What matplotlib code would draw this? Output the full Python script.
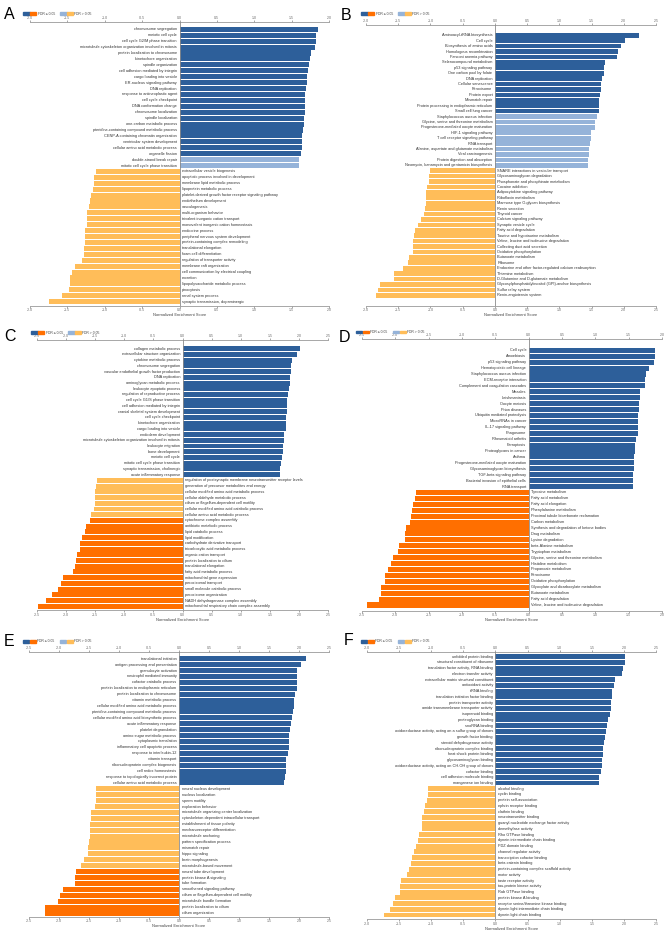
import matplotlib
matplotlib.use("Agg")
import matplotlib.pyplot as plt
from matplotlib.patches import Rectangle
import numpy as np

plt.rcParams['font.family'] = ['Liberation Sans', 'DejaVu Sans']

W, H = 666, 932
DARK_BLUE = '#2d5f9a'
LIGHT_BLUE = '#95b3d9'
DARK_ORANGE = '#ff6f00'
LIGHT_ORANGE = '#ffbd59'

# ---------------- Panel A ----------------
a_terms = [
    "chromosome segregation", "meiotic cell cycle", "cell cycle G2/M phase transition",
    "microtubule cytoskeleton organization involved in mitosis", "protein localization to chromosome",
    "kinetochore organization", "spindle organization", "cell adhesion mediated by integrin",
    "cargo loading into vesicle", "ER-nucleus signaling pathway", "DNA replication",
    "response to antineoplastic agent", "cell cycle checkpoint", "DNA conformation change",
    "chromosome localization", "spindle localization", "one-carbon metabolic process",
    "pteridine-containing compound metabolic process", "CENP-A containing chromatin organization",
    "ventricular system development", "cellular amino acid metabolic process", "organelle fission",
    "double-strand break repair", "mitotic cell cycle phase transition",
    "extracellular vesicle biogenesis", "apoptotic process involved in development",
    "membrane lipid metabolic process", "lipoprotein metabolic process",
    "platelet-derived growth factor receptor signaling pathway", "endothelium development",
    "vasculogenesis", "multi-organism behavior", "trivalent inorganic cation transport",
    "monovalent inorganic cation homeostasis", "endocrine process",
    "peripheral nervous system development", "protein-containing complex remodeling",
    "translational elongation", "foam cell differentiation", "regulation of transporter activity",
    "membrane raft organization", "cell communication by electrical coupling", "excretion",
    "lipopolysaccharide metabolic process", "pinocytosis", "renal system process",
    "synaptic transmission, dopaminergic",
]
a_nes = [
    1.85, 1.83, 1.82, 1.81, 1.76, 1.75, 1.73, 1.72, 1.71, 1.71, 1.69, 1.68, 1.68, 1.68,
    1.68, 1.67, 1.66, 1.65, 1.64, 1.64, 1.64, 1.63, 1.60, 1.60,
    -1.12, -1.15, -1.15, -1.16, -1.19, -1.20, -1.21, -1.24, -1.24, -1.24, -1.26, -1.26,
    -1.27, -1.28, -1.28, -1.30, -1.40, -1.44, -1.46, -1.47, -1.48, -1.57, -1.74,
]
a_sig = [1] * 22 + [0] * 2 + [0] * 23

# ---------------- Panel B ----------------
b_terms = [
    "Aminoacyl-tRNA biosynthesis", "Cell cycle", "Biosynthesis of amino acids",
    "Homologous recombination", "Fanconi anemia pathway", "Selenocompound metabolism",
    "p53 signaling pathway", "One carbon pool by folate", "DNA replication", "Cellular senescence",
    "Peroxisome", "Protein export", "Mismatch repair",
    "Protein processing in endoplasmic reticulum", "Small cell lung cancer",
    "Staphylococcus aureus infection", "Glycine, serine and threonine metabolism",
    "Progesterone-mediated oocyte maturation", "HIF-1 signaling pathway",
    "T cell receptor signaling pathway", "RNA transport",
    "Alanine, aspartate and glutamate metabolism", "Viral carcinogenesis",
    "Protein digestion and absorption", "Neomycin, kanamycin and gentamicin biosynthesis",
    "SNARE interactions in vesicular transport", "Glycosaminoglycan degradation",
    "Phosphonate and phosphinate metabolism", "Cocaine addiction",
    "Adipocytokine signaling pathway", "Riboflavin metabolism",
    "Mannose type O-glycan biosynthesis", "Renin secretion", "Thyroid cancer",
    "Calcium signaling pathway", "Synaptic vesicle cycle", "Fatty acid degradation",
    "Taurine and hypotaurine metabolism", "Valine, leucine and isoleucine degradation",
    "Collecting duct acid secretion", "Oxidative phosphorylation", "Butanoate metabolism",
    "Ribosome", "Endocrine and other factor-regulated calcium reabsorption",
    "Thiamine metabolism", "D-Glutamine and D-glutamate metabolism",
    "Glycosylphosphatidylinositol (GPI)-anchor biosynthesis", "Sulfur relay system",
    "Renin-angiotensin system",
]
b_nes = [
    2.23, 2.02, 1.96, 1.91, 1.89, 1.71, 1.70, 1.70, 1.66, 1.65, 1.65, 1.63, 1.62, 1.61, 1.61,
    1.59, 1.55, 1.55, 1.49, 1.49, 1.47, 1.46, 1.46, 1.45, 1.45,
    -1.01, -1.02, -1.03, -1.06, -1.07, -1.07, -1.07, -1.09, -1.10, -1.15, -1.19, -1.24,
    -1.26, -1.27, -1.27, -1.27, -1.33, -1.35, -1.42, -1.56, -1.56, -1.78, -1.81, -1.85,
]
b_sig = [1] * 15 + [0] * 10 + [0] * 24

# ---------------- Panel C ----------------
c_terms = [
    "collagen metabolic process", "extracellular structure organization",
    "cytokine metabolic process", "chromosome segregation",
    "vascular endothelial growth factor production", "DNA replication",
    "aminoglycan metabolic process", "leukocyte apoptotic process",
    "regulation of reproductive process", "cell cycle G1/S phase transition",
    "cell adhesion mediated by integrin", "cranial skeletal system development",
    "cell cycle checkpoint", "kinetochore organization", "cargo loading into vesicle",
    "endoderm development", "microtubule cytoskeleton organization involved in mitosis",
    "leukocyte migration", "bone development", "meiotic cell cycle",
    "mitotic cell cycle phase transition", "synaptic transmission, cholinergic",
    "acute inflammatory response",
    "regulation of postsynaptic membrane neurotransmitter receptor levels",
    "generation of precursor metabolites and energy",
    "cellular modified amino acid metabolic process", "cellular aldehyde metabolic process",
    "cilium or flagellum-dependent cell motility",
    "cellular modified amino acid catabolic process", "cellular amino acid metabolic process",
    "cytochrome complex assembly", "antibiotic metabolic process", "lipid catabolic process",
    "lipid modification", "carbohydrate derivative transport",
    "tricarboxylic acid metabolic process", "organic cation transport",
    "protein localization to cilium", "translational elongation", "fatty acid metabolic process",
    "mitochondrial gene expression", "peroxisomal transport", "small molecule catabolic process",
    "peroxisome organization", "NADH dehydrogenase complex assembly",
    "mitochondrial respiratory chain complex assembly",
]
c_nes = [
    2.02, 1.96, 1.89, 1.87, 1.87, 1.84, 1.84, 1.83, 1.81, 1.80, 1.79, 1.79, 1.78, 1.78, 1.78,
    1.75, 1.74, 1.73, 1.72, 1.71, 1.70, 1.67, 1.67,
    -1.47, -1.48, -1.51, -1.51, -1.51, -1.52, -1.58,
    -1.59, -1.65, -1.67, -1.73, -1.76, -1.76, -1.81, -1.83, -1.84, -1.89, -2.05, -2.09,
    -2.14, -2.24, -2.35, -2.49,
]
c_sig = [1] * 23 + [0] * 7 + [1] * 16

# ---------------- Panel D ----------------
d_terms = [
    "Cell cycle", "Amoebiasis", "p53 signaling pathway", "Hematopoietic cell lineage",
    "Staphylococcus aureus infection", "ECM-receptor interaction",
    "Complement and coagulation cascades", "Measles", "Leishmaniasis", "Oocyte meiosis",
    "Prion diseases", "Ubiquitin mediated proteolysis", "MicroRNAs in cancer",
    "IL-17 signaling pathway", "Phagosome", "Rheumatoid arthritis", "Ferroptosis",
    "Proteoglycans in cancer", "Asthma", "Progesterone-mediated oocyte maturation",
    "Glycosaminoglycan biosynthesis", "TGF-beta signaling pathway",
    "Bacterial invasion of epithelial cells", "RNA transport",
    "Tyrosine metabolism", "Fatty acid metabolism", "Fatty acid elongation",
    "Phenylalanine metabolism", "Proximal tubule bicarbonate reclamation", "Carbon metabolism",
    "Synthesis and degradation of ketone bodies", "Drug metabolism", "Lysine degradation",
    "beta-Alanine metabolism", "Tryptophan metabolism",
    "Glycine, serine and threonine metabolism", "Histidine metabolism",
    "Propanoate metabolism", "Peroxisome", "Oxidative phosphorylation",
    "Glyoxylate and dicarboxylate metabolism", "Butanoate metabolism",
    "Fatty acid degradation", "Valine, leucine and isoleucine degradation",
]
d_nes = [
    1.89, 1.89, 1.88, 1.80, 1.76, 1.75, 1.74, 1.67, 1.67, 1.66, 1.65, 1.64, 1.64, 1.64,
    1.64, 1.61, 1.59, 1.59, 1.58, 1.58, 1.58, 1.57, 1.57, 1.56,
    -1.69, -1.71, -1.74, -1.75, -1.76, -1.78, -1.84, -1.85, -1.86, -1.94, -1.96, -2.04,
    -2.07, -2.11, -2.16, -2.16, -2.21, -2.21, -2.25, -2.42,
]
d_sig = [1] * 44

# ---------------- Panel E ----------------
e_terms = [
    "translational initiation", "antigen processing and presentation", "granulocyte activation",
    "neutrophil mediated immunity", "cofactor catabolic process",
    "protein localization to endoplasmic reticulum", "protein localization to chromosome",
    "vitamin metabolic process", "cellular modified amino acid metabolic process",
    "pteridine-containing compound metabolic process",
    "cellular modified amino acid biosynthetic process", "acute inflammatory response",
    "platelet degranulation", "amino sugar metabolic process", "cytoplasmic translation",
    "inflammatory cell apoptotic process", "response to interleukin-12", "vitamin transport",
    "ribonucleoprotein complex biogenesis", "cell redox homeostasis",
    "response to topologically incorrect protein", "cellular amino acid metabolic process",
    "neural nucleus development", "nucleus localization", "sperm motility",
    "exploration behavior", "microtubule organizing center localization",
    "cytoskeleton-dependent intracellular transport", "establishment of tissue polarity",
    "mechanoreceptor differentiation", "microtubule anchoring", "pattern specification process",
    "mismatch repair", "hippo signaling", "brain morphogenesis", "microtubule-based movement",
    "neural tube development", "protein kinase A signaling", "tube formation",
    "smoothened signaling pathway", "cilium or flagellum-dependent cell motility",
    "microtubule bundle formation", "protein localization to cilium", "cilium organization",
]
e_nes = [
    2.12, 2.03, 1.97, 1.97, 1.96, 1.96, 1.94, 1.92, 1.91, 1.90, 1.89, 1.86, 1.85, 1.83,
    1.83, 1.83, 1.81, 1.79, 1.79, 1.79, 1.77, 1.75,
    -1.38, -1.39, -1.39, -1.40, -1.46, -1.47, -1.49, -1.49, -1.49, -1.50, -1.52, -1.52,
    -1.59, -1.63, -1.71, -1.73, -1.73, -1.93, -1.99, -2.01, -2.23, -2.23,
]
e_sig = [1] * 22 + [0] * 14 + [1] * 8

# ---------------- Panel F ----------------
f_terms = [
    "unfolded protein binding", "structural constituent of ribosome",
    "translation factor activity, RNA binding", "electron transfer activity",
    "extracellular matrix structural constituent", "antioxidant activity", "tRNA binding",
    "translation initiation factor binding", "protein transporter activity",
    "amide transmembrane transporter activity", "isoprenoid binding", "proteoglycan binding",
    "snoRNA binding", "oxidoreductase activity, acting on a sulfur group of donors",
    "growth factor binding", "steroid dehydrogenase activity",
    "ribonucleoprotein complex binding", "heat shock protein binding",
    "glycosaminoglycan binding", "oxidoreductase activity, acting on CH-OH group of donors",
    "cofactor binding", "cell adhesion molecule binding", "manganese ion binding",
    "alcohol binding", "cyclin binding", "protein self-association", "ephrin receptor binding",
    "clathrin binding", "neurotransmitter binding", "guanyl-nucleotide exchange factor activity",
    "demethylase activity", "Rho GTPase binding", "dynein intermediate chain binding",
    "PDZ domain binding", "channel regulator activity", "transcription cofactor binding",
    "beta-catenin binding", "protein-containing complex scaffold activity", "motor activity",
    "taste receptor activity", "tau-protein kinase activity", "Rab GTPase binding",
    "protein kinase A binding", "receptor serine/threonine kinase binding",
    "dynein light intermediate chain binding", "dynein light chain binding",
]
f_nes = [
    2.02, 2.01, 1.98, 1.97, 1.86, 1.85, 1.82, 1.81, 1.80, 1.80, 1.79, 1.75, 1.74, 1.72,
    1.70, 1.69, 1.68, 1.68, 1.66, 1.66, 1.64, 1.62, 1.62,
    -1.05, -1.05, -1.07, -1.09, -1.12, -1.14, -1.14, -1.15, -1.19, -1.20, -1.23, -1.27,
    -1.30, -1.32, -1.34, -1.38, -1.47, -1.48, -1.49, -1.57, -1.60, -1.64, -1.74,
]
f_sig = [1] * 23 + [0] * 23

# ---------------- Layout (pixel geometry of each panel) ----------------
panels = [
    ("A", a_terms, a_nes, a_sig, -2.0, 2.0, 30, 329, 22, 306, 29.3, 301.7, (9, 14.5), (23, 13.8)),
    ("B", b_terms, b_nes, b_sig, -2.0, 2.5, 366, 656, 25, 306, 35.3, 295.3, (346, 15), (361, 13.8)),
    ("C", c_terms, c_nes, c_sig, -2.5, 2.5, 37, 328, 340, 610.3, 348.7, 606.3, (10.5, 336.7), (31, 332.6)),
    ("D", d_terms, d_nes, d_sig, -2.5, 2.0, 362, 662, 339.3, 611, 350.3, 605, (344, 337), (355.7, 332.0)),
    ("E", e_terms, e_nes, e_sig, -2.5, 2.5, 29, 329, 652, 916.7, 658.7, 913, (9, 641.3), (22.7, 641.2)),
    ("F", f_terms, f_nes, f_sig, -2.0, 2.5, 367, 656, 652.3, 919.3, 656.7, 915, (349, 640.5), (360.7, 641.2)),
]

fig = plt.figure(figsize=(W / 100, H / 100), dpi=100)
fig.patch.set_facecolor('white')

LABEL_FS = 2.8
TICK_FS = 2.5


def color_for(v, s):
    if v >= 0:
        return DARK_BLUE if s else LIGHT_BLUE
    return DARK_ORANGE if s else LIGHT_ORANGE


for (letter, terms, nes, sig, xmin, xmax, pl, pr, pt, pb, fy, ly, lxy, gxy) in panels:
    n = len(terms)
    ax = fig.add_axes([pl / W, 1 - pb / H, (pr - pl) / W, (pb - pt) / H])
    spacing = (ly - fy) / (n - 1)
    y_top = (pt - fy) / spacing
    y_bot = (pb - fy) / spacing
    ypos = np.arange(n)
    colors = [color_for(v, s) for v, s in zip(nes, sig)]
    ax.barh(ypos, nes, height=0.86, color=colors, edgecolor='none', zorder=2)
    ax.set_ylim(y_bot, y_top)
    ax.set_xlim(xmin, xmax)
    ax.axvline(0, color='#8a8a8a', lw=0.6, zorder=3)
    for i, (t, v) in enumerate(zip(terms, nes)):
        if v >= 0:
            ax.annotate(t, (0, i), xytext=(-1.8, 0), textcoords='offset points',
                        ha='right', va='center', fontsize=LABEL_FS, color='#333333')
        else:
            ax.annotate(t, (0, i), xytext=(1.8, 0), textcoords='offset points',
                        ha='left', va='center', fontsize=LABEL_FS, color='#333333')
    ticks = np.arange(xmin, xmax + 0.001, 0.5)
    ax.set_xticks(ticks)
    ax.set_xticklabels([f"{t:.1f}" for t in ticks])
    ax.tick_params(axis='x', top=True, labeltop=True, bottom=True, labelbottom=True,
                   length=1.3, width=0.4, labelsize=TICK_FS, colors='#666666', pad=0.4)
    ax.set_yticks([])
    for s in ('left', 'right'):
        ax.spines[s].set_visible(False)
    for s in ('top', 'bottom'):
        ax.spines[s].set_color('#999999')
        ax.spines[s].set_linewidth(0.6)
    ax.set_xlabel("Normalized Enrichment Score", fontsize=2.9, color='#444444', labelpad=0.8)
    ax.set_facecolor('none')

    # panel letter
    fig.text(lxy[0] / W, 1 - lxy[1] / H, letter, fontsize=11.5, ha='center', va='center',
             color='black')

    # legend
    gx, gy = gxy
    sw, sh = 6.5, 2.6
    for x, c in [(gx, DARK_BLUE), (gx + sw + 0.3, DARK_ORANGE)]:
        fig.patches.append(Rectangle((x / W, 1 - (gy + sh / 2) / H), sw / W, sh / H,
                                     transform=fig.transFigure, color=c, figure=fig))
    fig.text((gx + 2 * sw + 1.5) / W, 1 - gy / H, "FDR \u2264 0.05", fontsize=2.4,
             ha='left', va='center', color='#444444')
    gx2 = gx + 37
    for x, c in [(gx2, LIGHT_BLUE), (gx2 + sw + 0.3, LIGHT_ORANGE)]:
        fig.patches.append(Rectangle((x / W, 1 - (gy + sh / 2) / H), sw / W, sh / H,
                                     transform=fig.transFigure, color=c, figure=fig))
    fig.text((gx2 + 2 * sw + 1.5) / W, 1 - gy / H, "FDR > 0.05", fontsize=2.4,
             ha='left', va='center', color='#444444')

fig.savefig("out.png", dpi=100, facecolor='white')
